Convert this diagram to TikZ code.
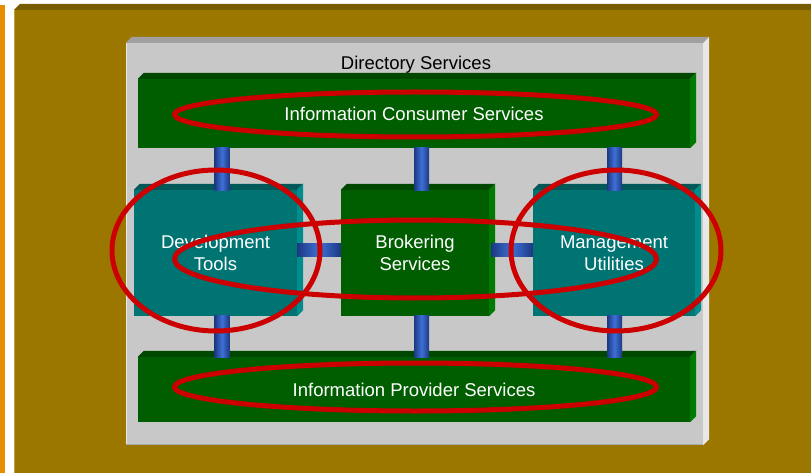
\documentclass[tikz,border=0pt]{standalone}
\usepackage{fontspec}
\setmainfont{Liberation Sans}
\usetikzlibrary{calc,positioning}
\definecolor{brownface}{RGB}{156,119,0}
\definecolor{browntop}{RGB}{120,92,0}
\definecolor{brownedge}{RGB}{190,160,70}
\definecolor{orangestrip}{RGB}{232,140,0}
\definecolor{panelface}{RGB}{200,200,200}
\definecolor{paneltop}{RGB}{160,160,160}
\definecolor{panelside}{RGB}{232,232,232}
\definecolor{greenface}{RGB}{0,94,0}
\definecolor{greentop}{RGB}{0,72,0}
\definecolor{greenside}{RGB}{0,122,0}
\definecolor{tealface}{RGB}{0,115,115}
\definecolor{tealtop}{RGB}{0,88,88}
\definecolor{tealside}{RGB}{0,140,140}
\definecolor{pipedark}{RGB}{28,56,130}
\definecolor{pipelight}{RGB}{62,112,214}
\definecolor{ringred}{RGB}{204,0,0}
\tikzset{%
  face/.style={rectangle, inner sep=0pt, text=white, align=center,
    font=\fontsize{18.5}{22}\selectfont},% front face of a box
  bar/.style={face, fill=greenface, minimum width=552pt},% service layer
  block/.style={face, minimum height=126pt},% middle blocks
  pipe/.style={left color=pipedark, right color=pipedark, middle color=pipelight},
  ring/.style={draw=ringred, line width=5pt}% highlight ellipse
}
\newcommand*{\bevdepth}{6pt}
% top and side faces of a raised box
\newcommand*{\bevel}[3]{%
  \fill[#2] (#1.north west) -- ++(\bevdepth,\bevdepth)
    -- ($(#1.north east)+(\bevdepth,\bevdepth)$) -- (#1.north east) -- cycle;
  \fill[#3] (#1.north east) -- ++(\bevdepth,\bevdepth)
    -- ($(#1.south east)+(\bevdepth,\bevdepth)$) -- (#1.south east) -- cycle;}
% vertical pipe in column #3 from node #1 down to node #2
\newcommand*{\vpipe}[3]{%
  \shade[pipe] ($(#1.south -| #3)+(-7.5,-1)$) rectangle ($(#2.north -| #3)+(7.5,1)$);}

\begin{document}
\begin{tikzpicture}[x=1pt,y=-1pt]
\useasboundingbox (0,0) rectangle (811,473);
\clip (0,0) rectangle (811,473);

% backdrop
\fill[white] (0,0) rectangle (811,473);
\fill[orangestrip] (0,5) rectangle (5,473);
\fill[browntop] (14,10) -- (20,4) -- (830,4) -- (830,10) -- cycle;
\fill[brownface] (14,10) rectangle (830,480);
\draw[brownedge, line width=1pt] (14.5,10) -- (14.5,473);

% directory panel
\node[fill=panelface, minimum width=577pt, minimum height=402pt, inner sep=0pt] (panel) at (414.5,244) {};
\bevel{panel}{paneltop}{panelside}
\draw[panelside, line width=1.5pt] ($(panel.south west)+(0.75,0)$) -- ($(panel.north west)+(0.75,0)$);
\draw[paneltop!80!panelface, line width=1.5pt] ($(panel.south west)+(0,-0.75)$) -- ($(panel.south east)+(0,-0.75)$);
\node[anchor=base, font=\fontsize{18.5}{22}\selectfont] (title) at (416,70) {Directory Services};

% service layers
\node[bar, minimum height=69pt] (cons) at (414,113.5) {Information Consumer Services};
\node[bar, minimum height=65pt] (prov) at (414,389.5) {Information Provider Services};
\bevel{cons}{greentop}{greenside}
\bevel{prov}{greentop}{greenside}

% middle blocks
\node[block, fill=tealface, minimum width=163pt] (dev) at (215.5,253) {Development\\Tools};
\node[block, fill=greenface, minimum width=148pt] (brok) at (415,253) {Brokering\\Services};
\node[block, fill=tealface, minimum width=162pt] (mgmt) at (614,253) {Management\\Utilities};
\bevel{dev}{tealtop}{tealside}
\bevel{brok}{greentop}{greenside}
\bevel{mgmt}{tealtop}{tealside}

% pipes
\coordinate (colL) at (222,0);
\coordinate (colM) at (421.5,0);
\coordinate (colR) at (614.5,0);
\vpipe{cons}{dev}{colL}
\vpipe{cons}{brok}{colM}
\vpipe{cons}{mgmt}{colR}
\vpipe{dev}{prov}{colL}
\vpipe{brok}{prov}{colM}
\vpipe{mgmt}{prov}{colR}
\shade[pipe] ($(dev.east)+(0,-10)$) rectangle ($(brok.west)+(0,3)$);
\shade[pipe] ($(brok.east)+(2,-10)$) rectangle ($(mgmt.west)+(0,3)$);

% highlights
\draw[ring] (415.5,114.5) ellipse [x radius=241pt, y radius=22.5pt];
\draw[ring] (415.5,387) ellipse [x radius=241pt, y radius=24pt];
\draw[ring] (415.5,259) ellipse [x radius=241pt, y radius=39pt];
\draw[ring] (216,250.5) ellipse [x radius=104pt, y radius=80.5pt];
\draw[ring] (616,250.5) ellipse [x radius=105pt, y radius=80.5pt];
\end{tikzpicture}
\end{document}
